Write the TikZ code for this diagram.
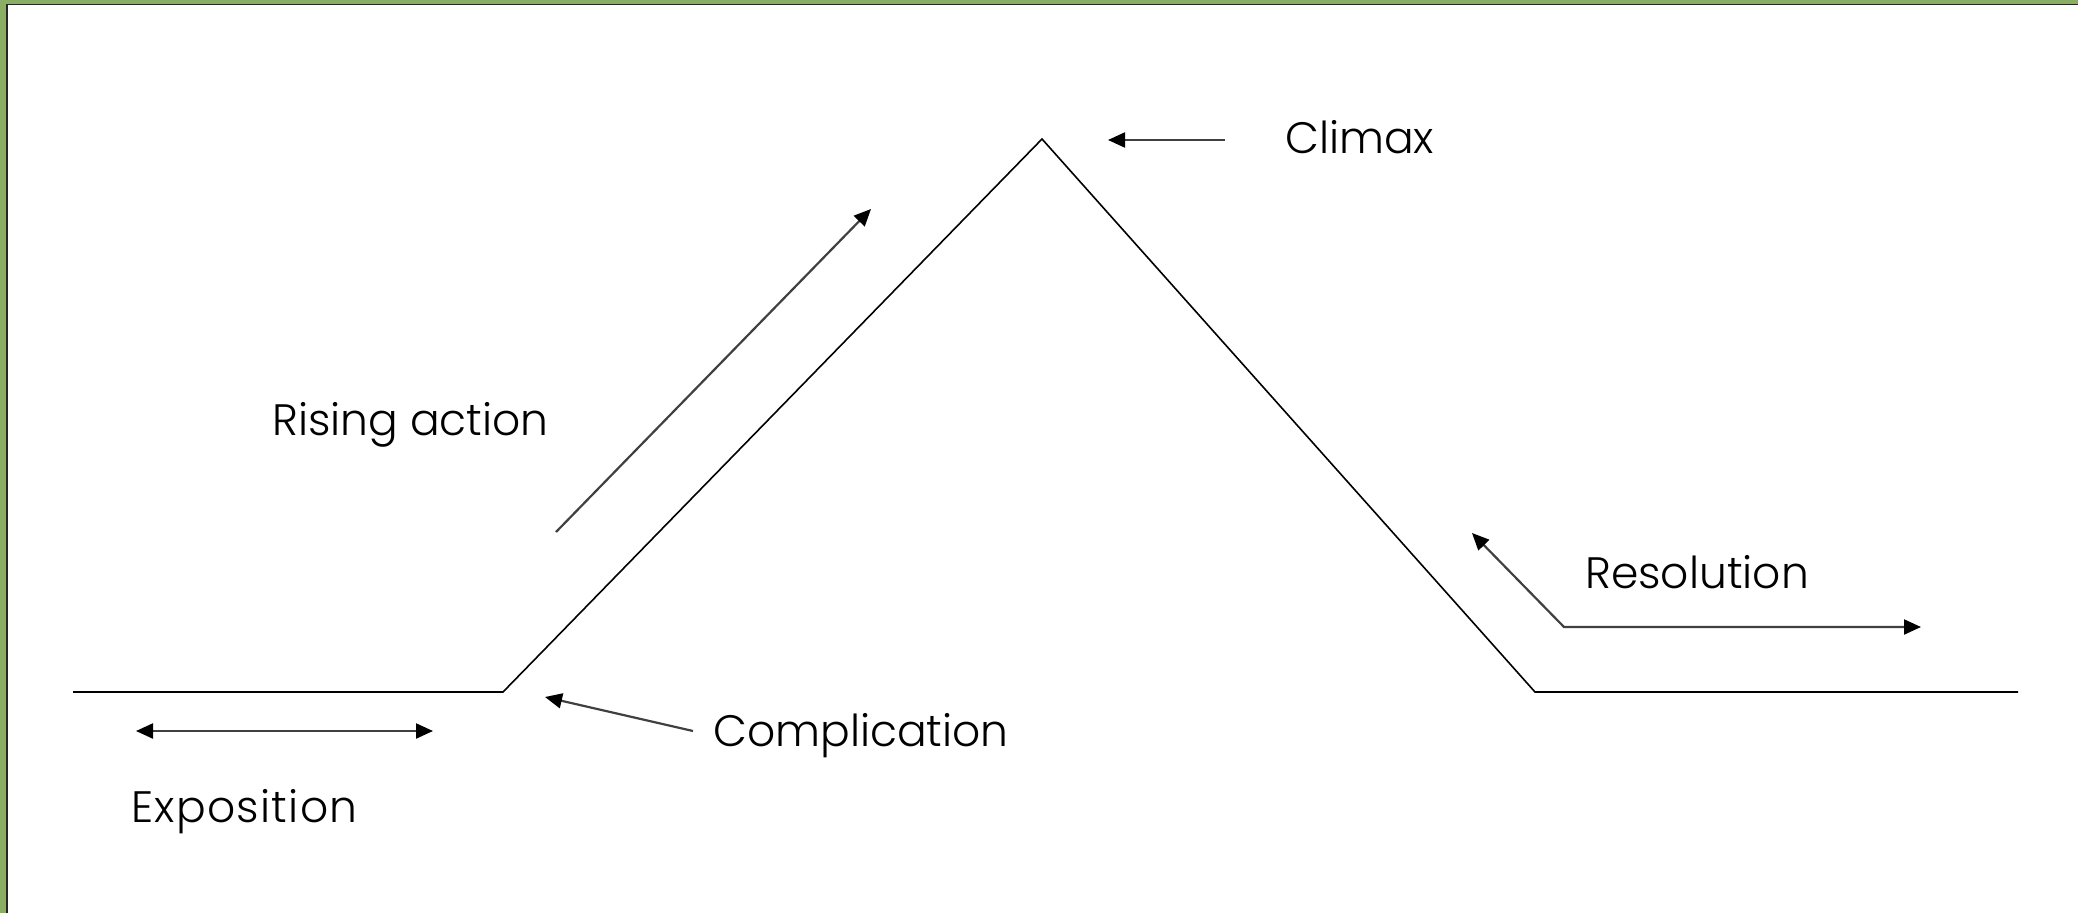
\documentclass[tikz,border=0pt]{standalone}
\usepackage{fontspec}
\setmainfont{Poppins}[UprightFont=* Light]
\usetikzlibrary{arrows.meta}
\definecolor{framegreen}{HTML}{8AAE64}
\begin{document}
\begin{tikzpicture}[x=1pt,y=-1pt,
  mount/.style={line width=1.6pt, draw=black, line join=miter},
  arr/.style={line width=2.2pt, draw=black!75},
  tri/.tip={Triangle[length=17pt,width=15pt,color=black]},
  lbl/.style={anchor=base west, inner sep=0pt, font=\fontsize{44}{50}\selectfont}]
\useasboundingbox (0,0) rectangle (2078,913);
% frame
\fill[framegreen] (0,0) rectangle (2078,3.5);
\fill[framegreen] (0,0) rectangle (6,913);
\draw[line width=1.6pt, black!85] (6.8,913) -- (6.8,4.3) -- (2078,4.3);
% mountain
\coordinate (L) at (73,692);
\coordinate (C1) at (503,692);
\coordinate (P) at (1042,139);
\coordinate (C2) at (1535,692);
\coordinate (R) at (2018,692);
\draw[mount] (L) -- (C1) -- (P) -- (C2) -- (R);
% labels
\node[lbl] (climax) at (1285,153) {Climax};
\node[lbl] (rising) at (272,435) {Rising action};
\node[lbl] (resol) at (1585,588) {Resolution};
\node[lbl] (compl) at (713,746) {Complication};
\node[lbl] (expo) at (131,822) {\addfontfeature{LetterSpace=3}Exposition};
% arrow anchors
\coordinate (ea) at (136,731);
\coordinate (eb) at (433,731);
\coordinate (ca) at (693,731);
\coordinate (cb) at (545,697);
\coordinate (ra) at (556,532);
\coordinate (rb) at (871,209);
\coordinate (xa) at (1225,140);
\coordinate (xb) at (1108,140);
\coordinate (sa) at (1472,533);
\coordinate (sm) at (1564,627);
\coordinate (sb) at (1921,627);
% arrows
\draw[arr, tri-tri] (ea) -- (eb);
\draw[arr, -tri] (ca) -- (cb);
\draw[arr, -tri] (ra) -- (rb);
\draw[arr, -tri] (xa) -- (xb);
\draw[arr, tri-tri] (sa) -- (sm) -- (sb);
\end{tikzpicture}
\end{document}
